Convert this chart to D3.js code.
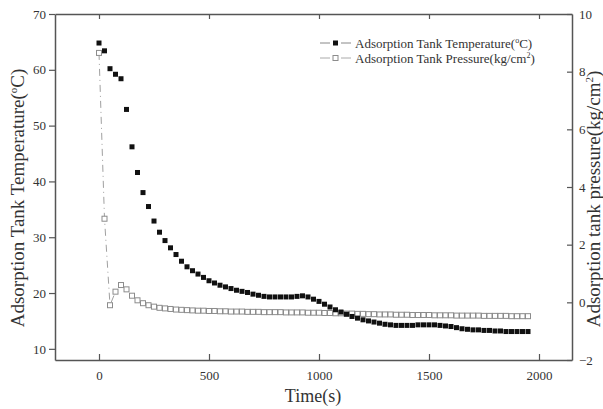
<!DOCTYPE html>
<html>
<head>
<meta charset="utf-8">
<script src="https://cdn.jsdelivr.net/npm/d3@7"></script>
<style>
  body { margin: 0; background: #fff; }
  svg text { font-family: "Liberation Serif", "Times New Roman", serif; fill: #333; }
</style>
</head>
<body>
<div id="chart"></div>
<script>
// time (s), one sample every 25 s
var times = [
    0, 25, 50, 75, 100, 125, 150, 175, 200, 225,
    250, 275, 300, 325, 350, 375, 400, 425, 450, 475,
    500, 525, 550, 575, 600, 625, 650, 675, 700, 725,
    750, 775, 800, 825, 850, 875, 900, 925, 950, 975,
    1000, 1025, 1050, 1075, 1100, 1125, 1150, 1175, 1200, 1225,
    1250, 1275, 1300, 1325, 1350, 1375, 1400, 1425, 1450, 1475,
    1500, 1525, 1550, 1575, 1600, 1625, 1650, 1675, 1700, 1725,
    1750, 1775, 1800, 1825, 1850, 1875, 1900, 1925, 1950
];

// adsorption tank temperature (C), left axis
var temperature = [
    64.8, 63.4, 60.2, 59.2, 58.4, 52.9, 46.2, 41.6, 38.0, 35.5,
    32.9, 30.9, 29.4, 28.1, 26.9, 25.7, 24.7, 24.0, 23.4, 22.8,
    22.2, 21.8, 21.4, 21.1, 20.8, 20.5, 20.3, 20.1, 19.8, 19.6,
    19.4, 19.3, 19.3, 19.3, 19.3, 19.3, 19.4, 19.5, 19.3, 18.9,
    18.5, 18.0, 17.5, 17.0, 16.6, 16.2, 15.8, 15.5, 15.2, 15.0,
    14.8, 14.6, 14.4, 14.3, 14.2, 14.2, 14.2, 14.2, 14.3, 14.3,
    14.3, 14.3, 14.2, 14.1, 14.0, 13.8, 13.6, 13.5, 13.4, 13.4,
    13.3, 13.3, 13.2, 13.2, 13.1, 13.1, 13.1, 13.1, 13.1
];

// adsorption tank pressure (kg/cm2), right axis
var pressure = [
    8.65, 2.9, -0.1, 0.37, 0.6, 0.45, 0.23, 0.07, -0.03, -0.1,
    -0.15, -0.19, -0.21, -0.23, -0.25, -0.26, -0.27, -0.28, -0.29, -0.29,
    -0.30, -0.30, -0.31, -0.31, -0.32, -0.32, -0.32, -0.33, -0.33, -0.33,
    -0.34, -0.34, -0.34, -0.34, -0.35, -0.35, -0.35, -0.35, -0.36, -0.36,
    -0.36, -0.37, -0.37, -0.38, -0.38, -0.39, -0.39, -0.40, -0.40, -0.41,
    -0.41, -0.42, -0.42, -0.42, -0.43, -0.43, -0.43, -0.44, -0.44, -0.44,
    -0.44, -0.45, -0.45, -0.45, -0.45, -0.46, -0.46, -0.46, -0.46, -0.46,
    -0.47, -0.47, -0.47, -0.47, -0.47, -0.48, -0.48, -0.48, -0.48
];

var xTicks = [0, 500, 1000, 1500, 2000];
var tempTicks = [10, 20, 30, 40, 50, 60, 70];
var pressTicks = [-2, 0, 2, 4, 6, 8, 10];

var legendLabels = ["Adsorption Tank Temperature(", "Adsorption Tank Pressure(kg/cm"];

var width = 603, height = 409;
// plot box in pixels (named so they don't clash with window.top)
var plotLeft = 55, plotRight = 572, plotTop = 14, plotBottom = 360;
var axisColor = "#555";
var grayMark = "#8c8c8c";

var svg = d3.select("#chart").append("svg")
    .attr("width", width)
    .attr("height", height);

var x = d3.scaleLinear().domain([-200, 2150]).range([plotLeft, plotRight]);
var yT = d3.scaleLinear().domain([8, 70]).range([plotBottom, plotTop]);
var yP = d3.scaleLinear().domain([-2, 10]).range([plotBottom, plotTop]);

// axes
function styleAxis(g) {
    g.select(".domain").attr("stroke", axisColor).attr("stroke-width", 1.5);
    g.selectAll(".tick line").attr("stroke", axisColor).attr("stroke-width", 1.2);
    g.selectAll(".tick text").style("font-size", "13px").attr("fill", "#333");
}

svg.append("g")
    .attr("transform", "translate(0," + plotBottom + ")")
    .call(d3.axisBottom(x).tickValues(xTicks).tickFormat(d3.format("d"))
        .tickSizeInner(-6).tickSizeOuter(0).tickPadding(11))
    .call(styleAxis);

svg.append("g")
    .attr("transform", "translate(0," + plotTop + ")")
    .call(d3.axisTop(x).tickValues(xTicks).tickSizeInner(-5).tickSizeOuter(0).tickFormat(""))
    .call(styleAxis);

svg.append("g")
    .attr("transform", "translate(" + plotLeft + ",0)")
    .call(d3.axisLeft(yT).tickValues(tempTicks).tickSizeInner(6).tickSizeOuter(0).tickPadding(3))
    .call(styleAxis);

svg.append("g")
    .attr("transform", "translate(" + plotRight + ",0)")
    .call(d3.axisRight(yP).tickValues(pressTicks).tickFormat(d3.format("d"))
        .tickSizeInner(-5).tickSizeOuter(0).tickPadding(7))
    .call(styleAxis);

var data = times.map(function(t, i) {
    return { t: t, temp: temperature[i], press: pressure[i] };
});

// pressure dash-dot line under its markers
var pressLine = d3.line()
    .x(function(d) { return x(d.t); })
    .y(function(d) { return yP(d.press); });

svg.append("path")
    .datum(data)
    .attr("d", pressLine)
    .attr("fill", "none")
    .attr("stroke", "#a0a0a0")
    .attr("stroke-width", 1)
    .attr("stroke-dasharray", "7,4,1,4");

svg.selectAll(".press")
    .data(data)
    .enter().append("rect")
    .attr("class", "press")
    .attr("x", function(d) { return x(d.t) - 2.5; })
    .attr("y", function(d) { return yP(d.press) - 2.5; })
    .attr("width", 5)
    .attr("height", 5)
    .attr("fill", "#fff")
    .attr("stroke", grayMark)
    .attr("stroke-width", 1);

svg.selectAll(".temp")
    .data(data)
    .enter().append("rect")
    .attr("class", "temp")
    .attr("x", function(d) { return x(d.t) - 2.5; })
    .attr("y", function(d) { return yT(d.temp) - 2.5; })
    .attr("width", 5)
    .attr("height", 5)
    .attr("fill", "#111");

// legend: short dash, marker, short dash, then label
var legend = svg.append("g").attr("transform", "translate(320,43)");

function legendSymbol(yy, lineColor, fill, stroke) {
    legend.append("line")
        .attr("x1", 0).attr("x2", 10).attr("y1", yy).attr("y2", yy)
        .attr("stroke", lineColor).attr("stroke-width", 1);
    legend.append("line")
        .attr("x1", 21).attr("x2", 31).attr("y1", yy).attr("y2", yy)
        .attr("stroke", lineColor).attr("stroke-width", 1);
    legend.append("rect")
        .attr("x", 13).attr("y", yy - 2.5).attr("width", 5).attr("height", 5)
        .attr("fill", fill).attr("stroke", stroke).attr("stroke-width", stroke ? 1 : 0);
}

legendSymbol(0, "#888", "#111", null);
var lt1 = legend.append("text")
    .attr("x", 35).attr("y", 4.5)
    .style("font-size", "13px")
    .text(legendLabels[0]);
lt1.append("tspan").attr("dy", -5).style("font-size", "8px").text("o");
lt1.append("tspan").attr("dy", 5).text("C)");

legendSymbol(15, "#aaa", "#fff", grayMark);
var lt2 = legend.append("text")
    .attr("x", 35).attr("y", 19.5)
    .style("font-size", "13px")
    .text(legendLabels[1]);
lt2.append("tspan").attr("dy", -5).style("font-size", "8px").text("2");
lt2.append("tspan").attr("dy", 5).text(")");

// axis titles
svg.append("text")
    .attr("transform", "translate(313,402)")
    .attr("text-anchor", "middle")
    .style("font-size", "18px")
    .text("Time(s)");

var lt = svg.append("text")
    .attr("transform", "translate(24,198) rotate(-90)")
    .attr("text-anchor", "middle")
    .style("font-size", "19px")
    .text("Adsorption Tank Temperature(");
lt.append("tspan").attr("dy", -7).style("font-size", "11px").text("o");
lt.append("tspan").attr("dy", 7).text("C)");

var rt = svg.append("text")
    .attr("transform", "translate(600,199) rotate(-90)")
    .attr("text-anchor", "middle")
    .style("font-size", "19px")
    .text("Adsorption tank pressure(kg/cm");
rt.append("tspan").attr("dy", -7).style("font-size", "11px").text("2");
rt.append("tspan").attr("dy", 7).text(")");
</script>
</body>
</html>
